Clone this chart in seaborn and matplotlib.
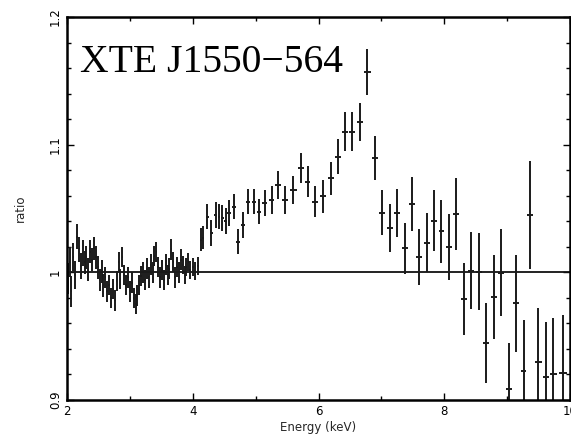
import numpy as np
import matplotlib
matplotlib.use('Agg')
import matplotlib.pyplot as plt
from matplotlib.ticker import MultipleLocator, FixedLocator, FixedFormatter
import seaborn as sns

sns.set_theme(style="ticks")
plt.rcParams['font.family'] = ['DejaVu Sans']

# ===== data =====
energy = [
    2.01, 2.04, 2.07, 2.10, 2.13, 2.16, 2.19, 2.22, 2.25, 2.28,
    2.31, 2.34, 2.37, 2.40, 2.43, 2.46, 2.49, 2.52, 2.55, 2.58,
    2.61, 2.64, 2.67, 2.70, 2.73, 2.76, 2.79, 2.82, 2.85, 2.88,
    2.91, 2.94, 2.97, 3.00, 3.03, 3.06, 3.09, 3.12, 3.15, 3.18,
    3.21, 3.24, 3.27, 3.30, 3.33, 3.36, 3.39, 3.42, 3.45, 3.48,
    3.51, 3.54, 3.57, 3.60, 3.63, 3.66, 3.69, 3.72, 3.75, 3.78,
    3.81, 3.84, 3.87, 3.90, 3.93, 3.96, 4.00, 4.04, 4.08,
    4.128, 4.164, 4.232, 4.295, 4.365, 4.417, 4.469, 4.523, 4.575, 4.654,
    4.722, 4.796, 4.880, 4.970, 5.049, 5.144, 5.254, 5.354, 5.471, 5.602,
    5.724, 5.828, 5.945, 6.076, 6.197, 6.313, 6.419, 6.534, 6.656, 6.779,
    6.897, 7.008, 7.130, 7.250, 7.376, 7.487, 7.604, 7.724, 7.840, 7.956,
    8.071, 8.193, 8.314, 8.430, 8.551, 8.671, 8.788, 8.904, 9.025, 9.145,
    9.262, 9.366, 9.499, 9.619, 9.736, 9.894,
]
ratio = [
    0.995, 1.008, 0.985, 1.012, 0.998, 1.028, 1.018, 1.005, 1.015, 1.008,
    1.012, 1.002, 1.016, 1.010, 1.019, 1.012, 1.004, 0.994, 1.001, 0.990,
    0.996, 0.985, 0.990, 0.980, 0.987, 0.978, 0.993, 1.008, 0.995, 1.012,
    0.998, 0.990, 0.996, 0.985, 0.992, 0.980, 0.975, 0.982, 0.990, 0.997,
    1.000, 0.994, 1.003, 0.996, 1.006, 1.000, 1.013, 1.016, 1.004, 0.996,
    1.002, 0.994, 1.006, 0.998, 1.003, 1.018, 1.008, 0.996, 1.004, 1.000,
    1.010, 1.006, 0.998, 1.004, 1.008, 1.002, 1.004, 1.001, 1.005,
    1.0255, 1.027, 1.0437, 1.031, 1.045, 1.0437, 1.0427, 1.040, 1.0466, 1.0515,
    1.024, 1.037, 1.0554, 1.0554, 1.0476, 1.0544, 1.0568, 1.0685, 1.0568, 1.0646,
    1.0816, 1.0711, 1.0554, 1.0594, 1.0738, 1.0907, 1.1103, 1.1103, 1.118, 1.157,
    1.0894, 1.0468, 1.0346, 1.0464, 1.019, 1.0534, 1.0119, 1.0233, 1.0406, 1.032,
    1.0197, 1.0458, 0.979, 1.0014, 1.0006, 0.9446, 0.9806, 0.9998, 0.9085, 0.9759,
    0.923, 1.045, 0.930, 0.918, 0.920, 0.9215,
]
ratio_err = [
    0.012, 0.012, 0.012, 0.011, 0.011, 0.010, 0.010, 0.010, 0.010, 0.009,
    0.009, 0.009, 0.009, 0.009, 0.009, 0.009, 0.009, 0.009, 0.009, 0.009,
    0.008, 0.008, 0.008, 0.008, 0.008, 0.008, 0.008, 0.008, 0.008, 0.008,
    0.008, 0.008, 0.008, 0.008, 0.008, 0.008, 0.008, 0.008, 0.008, 0.008,
    0.008, 0.008, 0.008, 0.008, 0.008, 0.008, 0.008, 0.008, 0.008, 0.008,
    0.008, 0.008, 0.008, 0.008, 0.008, 0.008, 0.008, 0.008, 0.008, 0.008,
    0.008, 0.007, 0.007, 0.007, 0.007, 0.007, 0.007, 0.007, 0.007,
    0.009, 0.009, 0.010, 0.010, 0.010, 0.010, 0.010, 0.010, 0.010, 0.010,
    0.010, 0.010, 0.010, 0.010, 0.010, 0.010, 0.011, 0.011, 0.011, 0.011,
    0.012, 0.012, 0.012, 0.013, 0.013, 0.014, 0.015, 0.015, 0.015, 0.018,
    0.017, 0.0176, 0.019, 0.019, 0.020, 0.021, 0.022, 0.023, 0.024, 0.025,
    0.026, 0.028, 0.028, 0.030, 0.030, 0.031, 0.033, 0.034, 0.036, 0.038,
    0.040, 0.042, 0.042, 0.043, 0.044, 0.045,
]
source_name = "XTE J1550\u2212564"
# ==================================

energy = np.array(energy)
ratio = np.array(ratio)
ratio_err = np.array(ratio_err)
energy_err = np.gradient(energy) * 0.4  # roughly half channel width

fig = plt.figure(figsize=(5.71, 4.45), dpi=100)
ax = fig.add_axes([67 / 571, 45 / 445, 503 / 571, 383 / 445])

# reference line at ratio = 1
sns.lineplot(x=[2, 10], y=[1, 1], color='#111111', linewidth=1.3, ax=ax)

ax.errorbar(energy, ratio, yerr=ratio_err, xerr=energy_err,
            fmt='none', ecolor='#1a1a1a', elinewidth=1.4, capsize=0)

ax.set_xlim(2, 10)
ax.set_ylim(0.9, 1.2)

ax.xaxis.set_major_locator(MultipleLocator(2))
ax.xaxis.set_minor_locator(MultipleLocator(1))
ax.yaxis.set_major_locator(FixedLocator([0.9, 1.0, 1.1, 1.2]))
ax.yaxis.set_major_formatter(FixedFormatter(['0.9', '1', '1.1', '1.2']))
ax.yaxis.set_minor_locator(MultipleLocator(0.02))

ax.tick_params(which='both', direction='in', top=True, right=True,
               colors='black', labelsize=8.5, width=1.0)
ax.tick_params(which='major', length=5)
ax.tick_params(which='minor', length=3)
for lab in ax.get_yticklabels():
    lab.set_rotation(90)
    lab.set_va('center')

for sp in ax.spines.values():
    sp.set_linewidth(1.8)
    sp.set_color('black')

ax.set_xlabel("Energy (keV)", fontsize=8.5, labelpad=2)
ax.set_ylabel("ratio", fontsize=8.5, labelpad=16)

ax.text(0.026, 0.856, source_name, transform=ax.transAxes,
        fontsize=28.5, family=['Liberation Serif', 'DejaVu Serif'],
        va='baseline', ha='left', color='black')

fig.savefig("out.png", dpi=100)
